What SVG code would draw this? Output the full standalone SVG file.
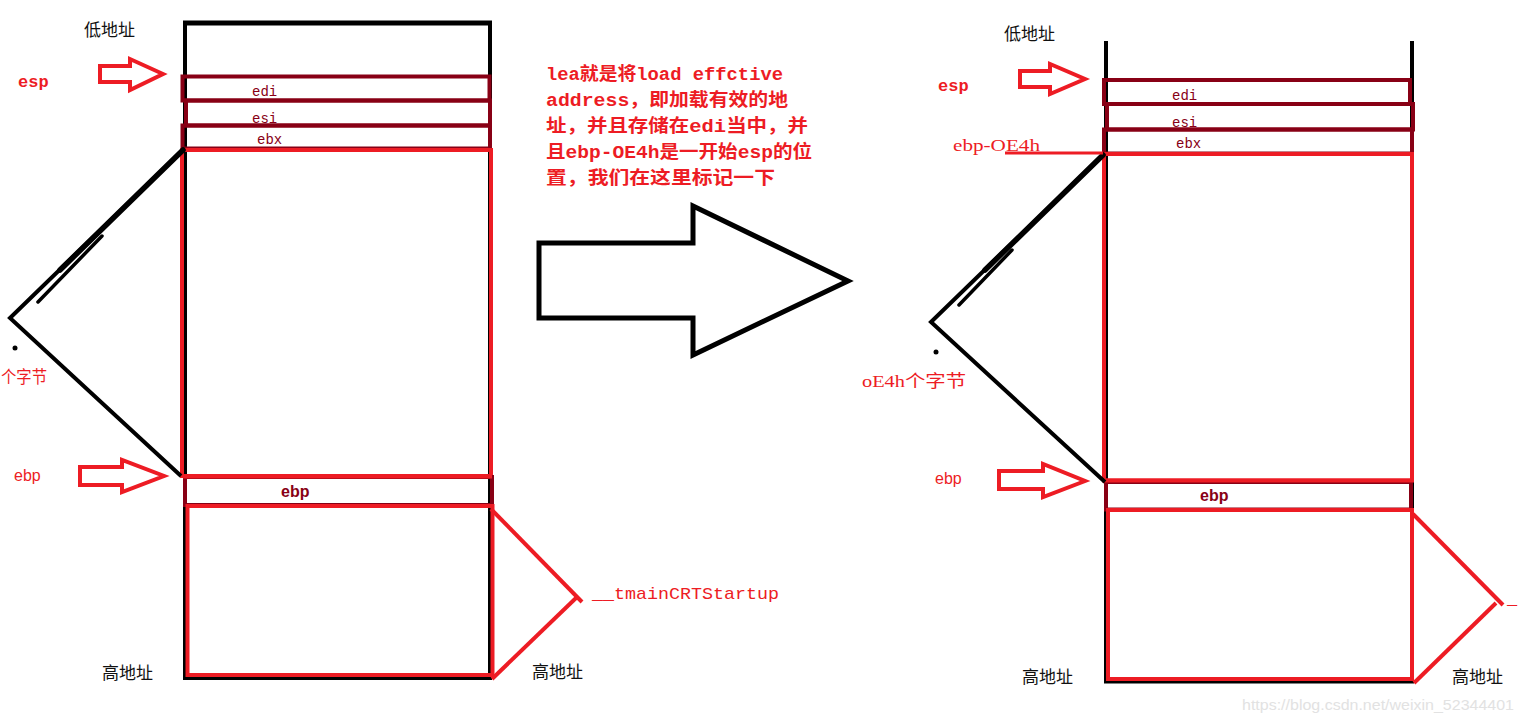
<svg xmlns="http://www.w3.org/2000/svg" width="1519" height="722" viewBox="0 0 1519 722">
<defs>
<style>
.blk{fill:none;stroke:#000;stroke-width:4}
.dr{fill:none;stroke:#880015;stroke-width:4}
.rd{fill:none;stroke:#ED1C24;stroke-width:4}
.arr{fill:#fff;stroke:#ED1C24;stroke-width:4;stroke-linejoin:miter}
.reg{font-family:"Liberation Mono","Noto Sans CJK SC",monospace;font-size:14px;fill:#880015}
.regb{font-family:"Liberation Sans","Noto Sans CJK SC",sans-serif;font-size:16px;font-weight:bold;fill:#880015}
.lab{font-family:"Liberation Mono","Noto Sans CJK SC",monospace;font-size:17px;font-weight:bold;fill:#ED1C24}
.labs{font-family:"Liberation Sans","Noto Sans CJK SC",sans-serif;font-size:16px;fill:#ED1C24}
.cjk{font-family:"Liberation Serif","Noto Sans CJK SC",serif;font-size:17px;fill:#111}
.cjkr{font-family:"Liberation Serif","Noto Sans CJK SC",serif;font-size:17px;fill:#ED1C24}
.note{font-family:"Liberation Mono","Noto Sans CJK SC",monospace;font-size:18px;font-weight:bold;fill:#ED1C24}
.mono{font-family:"Liberation Mono","Noto Sans CJK SC",monospace;font-size:17px;fill:#ED1C24}
</style>
</defs>
<rect width="1519" height="722" fill="#fff"/>

<g id="left-stack">
  <rect class="blk" x="185" y="23" width="305" height="655"/>
  <line x1="183" y1="23" x2="492" y2="23" stroke="#000" stroke-width="5"/>
  <rect class="dr" x="182.5" y="76.5" width="307" height="24"/>
  <rect class="dr" x="186" y="100.5" width="304" height="25"/>
  <rect class="dr" x="182.5" y="125.5" width="307.5" height="23"/>
  <rect class="rd" x="182" y="150" width="309" height="326"/>
  <rect class="dr" x="185" y="477" width="307" height="28"/>
  <line x1="183" y1="476.5" x2="492" y2="476.5" class="rd"/>
  <rect class="rd" x="187.5" y="506" width="305" height="169"/>
  <text class="reg" x="252" y="96">edi</text>
  <text class="reg" x="252" y="123">esi</text>
  <text class="reg" x="257" y="144">ebx</text>
  <text class="regb" x="281" y="497">ebp</text>
  <text class="cjk" x="84" y="36">低地址</text>
  <text class="cjk" x="102" y="679">高地址</text>
  <text class="cjk" x="532" y="678">高地址</text>
</g>

<g id="right-stack">
  <line x1="1106" y1="41" x2="1106" y2="683" class="blk"/>
  <line x1="1412" y1="41" x2="1412" y2="680" class="blk"/>
  <line x1="1104" y1="681.5" x2="1414" y2="681.5" class="blk"/>
  <rect class="dr" x="1104" y="80" width="306" height="24"/>
  <rect class="dr" x="1107" y="104" width="306" height="25.5"/>
  <rect class="dr" x="1104" y="129.5" width="308" height="24"/>
  <rect class="rd" x="1104" y="154" width="308" height="326.5"/>
  <rect class="dr" x="1106" y="482" width="305" height="27.5"/>
  <line x1="1104" y1="480.5" x2="1413" y2="480.5" class="rd"/>
  <rect class="rd" x="1108" y="510" width="304" height="169"/>
  <text class="reg" x="1172" y="100">edi</text>
  <text class="reg" x="1172" y="127">esi</text>
  <text class="reg" x="1176" y="148">ebx</text>
  <text class="regb" x="1200" y="501">ebp</text>
  <text class="cjk" x="1004" y="40">低地址</text>
  <text class="cjk" x="1022" y="683">高地址</text>
  <text class="cjk" x="1452" y="683">高地址</text>
</g>

<g id="labels">
  <text class="lab" x="18" y="87">esp</text>
  <text class="labs" x="14" y="481">ebp</text>
  <text class="cjkr" x="1" y="383" textLength="46" lengthAdjust="spacingAndGlyphs">个字节</text>
  <text class="mono" x="592" y="599" textLength="187" lengthAdjust="spacingAndGlyphs">__tmainCRTStartup</text>
  <text class="lab" x="938" y="91">esp</text>
  <text class="labs" x="935" y="484">ebp</text>
  <text class="cjkr" x="953" y="151" textLength="87" lengthAdjust="spacingAndGlyphs">ebp-OE4h</text>
  <text class="cjkr" x="862" y="387" textLength="104" lengthAdjust="spacingAndGlyphs">oE4h个字节</text>
  <text class="mono" x="1507" y="604">_</text>
</g>

<g id="note">
  <text class="note" x="546" y="80" textLength="237" lengthAdjust="spacingAndGlyphs">lea就是将load effctive</text>
  <text class="note" x="546" y="106" textLength="242" lengthAdjust="spacingAndGlyphs">address，即加载有效的地</text>
  <text class="note" x="546" y="132" textLength="262" lengthAdjust="spacingAndGlyphs">址，并且存储在edi当中，并</text>
  <text class="note" x="546" y="158" textLength="266" lengthAdjust="spacingAndGlyphs">且ebp-OE4h是一开始esp的位</text>
  <text class="note" x="546" y="184" textLength="229" lengthAdjust="spacingAndGlyphs">置，我们在这里标记一下</text>
</g>

<g id="big-arrow">
  <polygon points="539,243 693,243 693,206 848,281 693,355 693,318 539,318" fill="#fff" stroke="#000" stroke-width="5" stroke-linejoin="miter"/>
</g>

<g id="connectors">
  <polygon class="arr" points="100,66 130,66 130,59 163,74 130,90 130,82 100,82"/>
  <polygon class="arr" points="80,467 122,467 122,460 164,476 122,492 122,485 80,485"/>
  <polygon class="arr" points="1020,71 1050,71 1050,64 1085,79 1050,94 1050,87 1020,87"/>
  <polygon class="arr" points="999,471 1043,471 1043,464 1085,481 1043,497 1043,489 999,489"/>
  <polyline points="183,150 10,318 181,476" fill="none" stroke="#000" stroke-width="4" stroke-linejoin="miter"/>
  <line x1="183" y1="150" x2="60" y2="270" stroke="#000" stroke-width="5.5" stroke-linecap="round"/>
  <line x1="38" y1="302" x2="102" y2="236" stroke="#000" stroke-width="3.5" stroke-linecap="round"/>
  <circle cx="15" cy="348" r="2.5" fill="#000"/>
  <polyline points="1103,155 931,322 1105,482" fill="none" stroke="#000" stroke-width="4" stroke-linejoin="miter"/>
  <line x1="1103" y1="155" x2="985" y2="270" stroke="#000" stroke-width="5.5" stroke-linecap="round"/>
  <line x1="959" y1="305" x2="1012" y2="250" stroke="#000" stroke-width="3.5" stroke-linecap="round"/>
  <circle cx="936" cy="352" r="2.5" fill="#000"/>
  <line x1="1005" y1="153" x2="1103" y2="153" stroke="#ED1C24" stroke-width="3"/>
  <line x1="491" y1="509" x2="582" y2="602" class="rd"/>
  <line x1="576" y1="598" x2="492" y2="679" class="rd"/>
  <line x1="1413" y1="514" x2="1503" y2="605" class="rd"/>
  <line x1="1496" y1="603" x2="1414" y2="683" class="rd"/>
</g>

<text x="1242" y="710" textLength="272" lengthAdjust="spacingAndGlyphs" font-family="Liberation Sans, sans-serif" font-size="15" fill="#e2e2e2">https://blog.csdn.net/weixin_52344401</text>
</svg>
